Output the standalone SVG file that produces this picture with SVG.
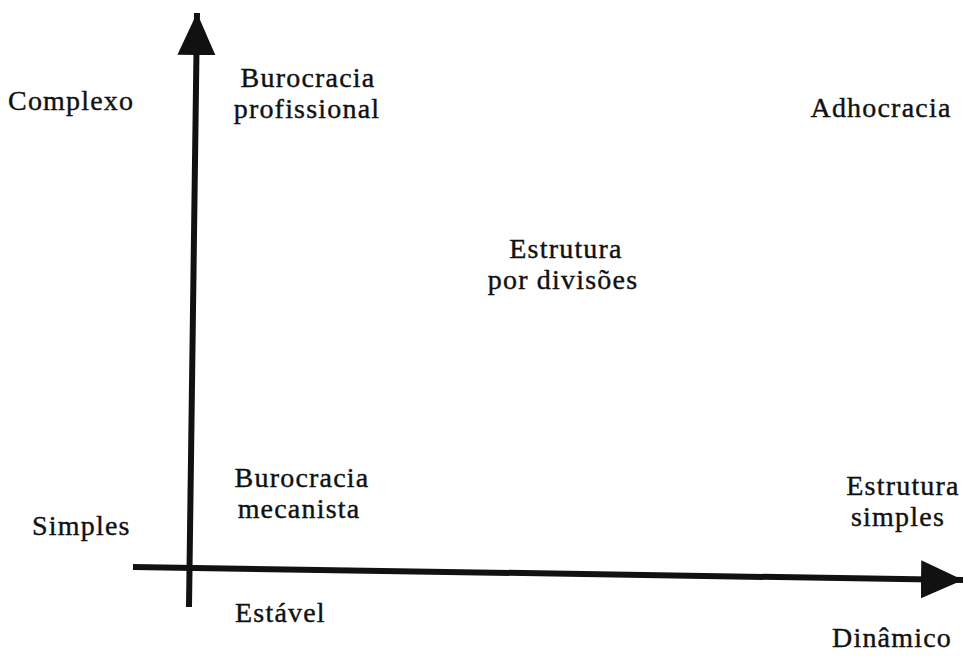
<svg xmlns="http://www.w3.org/2000/svg" width="964" height="658" viewBox="0 0 964 658">
<style>
text { font-family: "Liberation Serif", "DejaVu Serif", serif; font-size: 28px; letter-spacing: 1.2px; fill: #111; stroke: #111; stroke-width: 0.4; }
.axis { stroke: #111; stroke-width: 6; fill: none; }
</style>
<defs>
<marker id="head" markerUnits="userSpaceOnUse" markerWidth="44" markerHeight="40" refX="42" refY="20" orient="auto" viewBox="0 0 44 40">
<path d="M0,1 L42,20 L0,39 Z" fill="#111"/>
</marker>
</defs>
<rect width="964" height="658" fill="#fff"/>
<g id="connectors">
<line class="axis" x1="189" y1="607" x2="197" y2="13" marker-end="url(#head)"/>
<line class="axis" x1="133" y1="567" x2="963" y2="580" marker-end="url(#head)"/>
</g>
<g id="complexo"><text x="8" y="110">Complexo</text></g>
<g id="simples"><text x="32" y="535">Simples</text></g>
<g id="estavel"><text x="235" y="622">Estável</text></g>
<g id="dinamico"><text x="832" y="647">Dinâmico</text></g>
<g id="burocracia-profissional"><text x="308" y="87" text-anchor="middle">Burocracia</text><text x="307" y="118" text-anchor="middle">profissional</text></g>
<g id="adhocracia"><text x="881" y="117" text-anchor="middle">Adhocracia</text></g>
<g id="estrutura-divisoes"><text x="566" y="258" text-anchor="middle">Estrutura</text><text x="563" y="289" text-anchor="middle">por divisões</text></g>
<g id="burocracia-mecanista"><text x="302" y="487" text-anchor="middle">Burocracia</text><text x="299" y="518" text-anchor="middle">mecanista</text></g>
<g id="estrutura-simples"><text x="903" y="495" text-anchor="middle">Estrutura</text><text x="898" y="526" text-anchor="middle">simples</text></g>
</svg>
